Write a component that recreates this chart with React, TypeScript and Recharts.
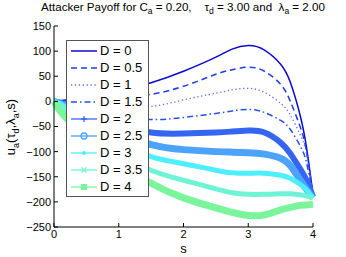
import React from "react"
import { LineChart, Line, XAxis, YAxis, Legend } from "recharts"

const S = [0, 0.15, 0.5, 1, 1.5, 2, 2.5, 2.75, 3, 3.25, 3.5, 3.65, 3.8, 3.9, 4]

const D0 = [0, 2, 8, 20, 37, 60, 88, 104, 111, 102, 74, 38, -27, -92, -185]
const D05 = [0, 1, 3, 7, 14, 30, 54, 63, 68, 60, 34, 0, -50, -100, -188]
const D1 = [0, -1, -4, -8, -10, 3, 16, 23, 26, 18, -4, -27, -66, -105, -190]
const D15 = [0, -3, -12, -27, -36, -32, -24, -19, -16, -22, -38, -56, -88, -122, -190]
const D2 = [0, -5, -22, -45, -62, -64, -62, -60, -58, -62, -82, -104, -134, -157, -190]
const D25 = [0, -7, -32, -62, -86, -96, -100, -101, -102, -105, -113, -128, -156, -175, -192]
const D3 = [0, -9, -42, -80, -110, -124, -137, -142, -143, -143, -147, -153, -165, -176, -192]
const D35 = [0, -12, -55, -102, -137, -157, -174, -182, -185, -185, -184, -184, -186, -188, -192]
const D4 = [0, -28, -68, -120, -163, -192, -212, -221, -227, -226, -216, -211, -207, -206, -205]

const X_TICKS = [0, 1, 2, 3, 4]
const Y_TICKS = [-250, -200, -150, -100, -50, 0, 50, 100, 150]

const series = [
  { key: "d0", name: "D = 0", values: D0, color: "#0a0ad2", width: 1.5, dash: undefined, marker: "none" },
  { key: "d05", name: "D = 0.5", values: D05, color: "#1f3de6", width: 1.5, dash: "6 4", marker: "none" },
  { key: "d1", name: "D = 1", values: D1, color: "#5a72f0", width: 1.3, dash: "1.3 2.6", marker: "none" },
  { key: "d15", name: "D = 1.5", values: D15, color: "#2450ee", width: 1.5, dash: "6 3 1.5 3", marker: "none" },
  { key: "d2", name: "D = 2", values: D2, color: "#3566f2", width: 6, dash: undefined, marker: "plus" },
  { key: "d25", name: "D = 2.5", values: D25, color: "#4ba3fb", width: 7, dash: undefined, marker: "circle" },
  { key: "d3", name: "D = 3", values: D3, color: "#4cf0fc", width: 5, dash: undefined, marker: "dot" },
  { key: "d35", name: "D = 3.5", values: D35, color: "#6ff3d6", width: 5, dash: undefined, marker: "x" },
  { key: "d4", name: "D = 4", values: D4, color: "#7af59c", width: 7, dash: undefined, marker: "square" },
]

const data = S.map((s, i) => {
  const row: Record<string, number> = { s }
  series.forEach((d) => (row[d.key] = d.values[i]))
  return row
})

const FONT = "'Liberation Sans', Arial, Helvetica, sans-serif"
const fmt = (v: number) => (v < 0 ? "\u2212" + Math.abs(v) : String(v))

const BottomTick = (props: any) => {
  const { x, y, payload } = props
  return (
    <g>
      <line x1={x} x2={x} y1={y} y2={y - 4} stroke="#000" />
      <text x={x} y={y + 3} dy="0.71em" textAnchor="middle" fontSize={11} fontFamily={FONT} fill="#000">
        {fmt(payload.value)}
      </text>
    </g>
  )
}

const LeftTick = (props: any) => {
  const { x, y, payload } = props
  return (
    <g>
      <line x1={x} x2={x + 4} y1={y} y2={y} stroke="#000" />
      <text x={x - 3} y={y} dy="0.355em" textAnchor="end" fontSize={11} fontFamily={FONT} fill="#000">
        {fmt(payload.value)}
      </text>
    </g>
  )
}

const TopTick = (props: any) => {
  const { x, y } = props
  return <line x1={x} x2={x} y1={y} y2={y + 4} stroke="#000" />
}

const RightTick = (props: any) => {
  const { x, y } = props
  return <line x1={x} x2={x - 4} y1={y} y2={y} stroke="#000" />
}

function Marker({ type, color }: { type: string; color: string }) {
  const cx = 13
  const cy = 6
  if (type === "plus")
    return (
      <g stroke={color} strokeWidth={1.3}>
        <line x1={cx - 3} x2={cx + 3} y1={cy} y2={cy} />
        <line x1={cx} x2={cx} y1={cy - 3} y2={cy + 3} />
      </g>
    )
  if (type === "circle") return <circle cx={cx} cy={cy} r={3} fill="none" stroke={color} strokeWidth={1.3} />
  if (type === "dot") return <circle cx={cx} cy={cy} r={2} fill={color} />
  if (type === "x")
    return (
      <g stroke={color} strokeWidth={1.3}>
        <line x1={cx - 2.5} x2={cx + 2.5} y1={cy - 2.5} y2={cy + 2.5} />
        <line x1={cx - 2.5} x2={cx + 2.5} y1={cy + 2.5} y2={cy - 2.5} />
      </g>
    )
  if (type === "square") return <rect x={cx - 3} y={cy - 3} width={6} height={6} fill={color} />
  return null
}

const LegendBox = () => (
  <div
    style={{
      background: "#fff",
      border: "1px solid #555",
      width: 83,
      height: 157,
      boxSizing: "border-box",
      padding: "1px 0 0 4px",
      fontFamily: FONT,
      fontSize: 13,
      color: "#000",
    }}
  >
    {series.map((d) => (
      <div key={d.key} style={{ display: "flex", alignItems: "center", height: 17 }}>
        <svg width={27} height={12} style={{ marginRight: 2 }}>
          <line
            x1={0}
            x2={26}
            y1={6}
            y2={6}
            stroke={d.color}
            strokeWidth={d.marker === "none" ? 1.5 : 1.3}
            strokeDasharray={d.dash}
          />
          <Marker type={d.marker} color={d.color} />
        </svg>
        <span style={{ lineHeight: "17px" }}>{d.name}</span>
      </div>
    ))}
  </div>
)

export default function App() {
  return (
    <div style={{ position: "relative", width: 346, height: 257, background: "#fff" }}>
      <style>{`body{margin:0}`}</style>
      <div
        style={{
          position: "absolute",
          top: 0,
          left: 0,
          width: 366,
          textAlign: "center",
          fontFamily: FONT,
          fontSize: 11.6,
          whiteSpace: "pre",
          zIndex: 2,
        }}
      >
        Attacker Payoff for C<sub style={{ fontSize: 8.5 }}>a</sub> = 0.20,{"    "}τ<sub style={{ fontSize: 8.5 }}>d</sub> = 3.00 and{"  "}λ
        <sub style={{ fontSize: 8.5 }}>a</sub> = 2.00
      </div>
      <div
        style={{
          position: "absolute",
          left: 12,
          top: 127,
          transform: "translate(-50%, -50%) rotate(-90deg)",
          fontFamily: FONT,
          fontSize: 13,
          whiteSpace: "nowrap",
          zIndex: 2,
        }}
      >
        u<sub style={{ fontSize: 9 }}>a</sub>(τ<sub style={{ fontSize: 9 }}>d</sub>,λ<sub style={{ fontSize: 9 }}>a</sub>,s)
      </div>
      <LineChart width={346} height={257} data={data} margin={{ top: 26, right: 33, bottom: 0, left: 0 }}>
        <XAxis
          xAxisId="b"
          dataKey="s"
          type="number"
          domain={[0, 4]}
          ticks={X_TICKS}
          interval={0}
          height={30}
          tickSize={0}
          tickMargin={0}
          tickLine={false}
          tick={BottomTick}
          axisLine={{ stroke: "#000" }}
          label={{ value: "s", position: "insideBottom", offset: 4, fontSize: 13, fontFamily: FONT, fill: "#000" }}
        />
        <XAxis
          xAxisId="t"
          orientation="top"
          dataKey="s"
          type="number"
          domain={[0, 4]}
          ticks={X_TICKS}
          interval={0}
          height={0}
          tickSize={0}
          tickMargin={0}
          tickLine={false}
          tick={TopTick}
          axisLine={{ stroke: "#000" }}
        />
        <YAxis
          yAxisId="l"
          type="number"
          domain={[-250, 150]}
          ticks={Y_TICKS}
          interval={0}
          width={54}
          tickSize={0}
          tickMargin={0}
          tickLine={false}
          tick={LeftTick}
          axisLine={{ stroke: "#000" }}
          allowDataOverflow
        />
        <YAxis
          yAxisId="r"
          orientation="right"
          type="number"
          domain={[-250, 150]}
          ticks={Y_TICKS}
          interval={0}
          width={0}
          tickSize={0}
          tickMargin={0}
          tickLine={false}
          tick={RightTick}
          axisLine={{ stroke: "#000" }}
          allowDataOverflow
        />
        {series.map((d) => (
          <Line
            key={d.key}
            xAxisId="b"
            yAxisId="l"
            dataKey={d.key}
            name={d.name}
            type="natural"
            stroke={d.color}
            strokeWidth={d.width}
            strokeDasharray={d.dash}
            dot={false}
            activeDot={false}
            isAnimationActive={false}
          />
        ))}
        <Legend
          content={LegendBox}
          layout="vertical"
          align="center"
          verticalAlign="middle"
          wrapperStyle={{ position: "absolute", left: 66, top: 40, width: 83, height: 157 }}
        />
      </LineChart>
    </div>
  )
}
